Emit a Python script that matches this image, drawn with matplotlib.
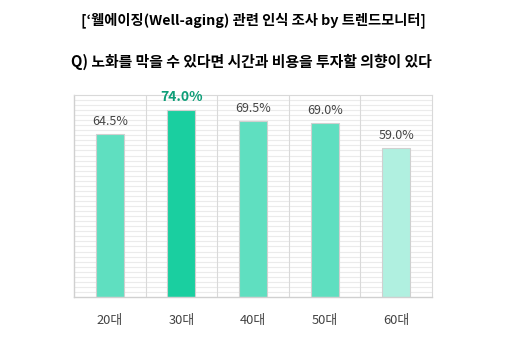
import matplotlib
matplotlib.use("Agg")
import matplotlib.pyplot as plt
import numpy as np

plt.rcParams['font.family'] = ['Noto Sans CJK KR', 'DejaVu Sans']

# data
categories = ["20대", "30대", "40대", "50대", "60대"]
values = [64.5, 74.0, 69.5, 69.0, 59.0]
value_labels = ["64.5%", "74.0%", "69.5%", "69.0%", "59.0%"]
bar_colors = ["#5FDFC0", "#1ACFA0", "#5FDFC0", "#5FDFC0", "#B0F0E0"]
highlight = 1

fig = plt.figure(figsize=(5.19, 3.38), dpi=100)
ax = fig.add_axes([0.1426, 0.1213, 0.690, 0.598])

x = np.arange(len(categories))
ax.set_xlim(-0.5, len(categories) - 0.5)
ax.set_ylim(0, 80)

# dense horizontal grid
for yv in np.arange(2, 80, 2):
    ax.axhline(yv, color="#EBEBEB", lw=0.8, zorder=1)
# category separators
for xv in np.arange(0.5, len(categories) - 0.5, 1):
    ax.axvline(xv, color="#D9D9D9", lw=0.8, zorder=1)

ax.bar(x, values, width=0.39, color=bar_colors, edgecolor="#D0D0D0",
       linewidth=0.8, zorder=2)

for i, (v, lab) in enumerate(zip(values, value_labels)):
    if i == highlight:
        ax.text(i, v + 2.4, lab, ha="center", va="bottom", fontsize=10,
                color="#0E9E78", fontweight="bold")
    else:
        ax.text(i, v + 2.4, lab, ha="center", va="bottom", fontsize=9,
                color="#444444")

ax.set_xticks(x)
ax.set_xticklabels(categories, fontsize=9.3, color="#444444")
ax.tick_params(axis="x", length=0, pad=12)
ax.set_yticks([])
for s in ["top", "right"]:
    ax.spines[s].set_color("#D9D9D9")
    ax.spines[s].set_linewidth(0.8)
for s in ["left", "bottom"]:
    ax.spines[s].set_color("#D0D0D0")
    ax.spines[s].set_linewidth(1.0)

fig.text(0.488, 0.94, "[‘웰에이징(Well-aging) 관련 인식 조사 by 트렌드모니터]",
         ha="center", va="center", fontsize=10.3, fontweight="bold", color="black")
fig.text(0.484, 0.817, "Q) 노화를 막을 수 있다면 시간과 비용을 투자할 의향이 있다",
         ha="center", va="center", fontsize=10.7, fontweight="bold", color="black")

fig.savefig("out.png", dpi=100)
